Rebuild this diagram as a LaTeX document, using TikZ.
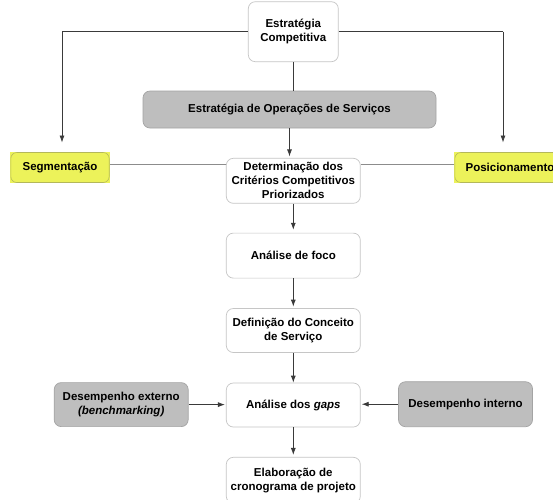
\documentclass[tikz,border=0pt]{standalone}
\usepackage{fontspec}
\setmainfont{Liberation Sans}
\usetikzlibrary{arrows.meta}
\definecolor{boxline}{HTML}{C6C6C6}
\definecolor{greyfill}{HTML}{BEBEBE}
\definecolor{greyline}{HTML}{A4A4A4}
\definecolor{yellowfill}{HTML}{ECF25A}
\definecolor{yellowline}{HTML}{B4B85A}
\definecolor{wire}{HTML}{3A3A3A}
\definecolor{sidewire}{HTML}{8C8C8C}

\begin{document}
\begin{tikzpicture}[x=1pt,y=-1pt,
  every node/.style={font=\fontsize{11.5}{14}\selectfont\bfseries, align=center, inner sep=0pt},
  card/.style={draw=boxline, fill=white, rounded corners=7pt, line width=0.7pt},
  greycard/.style={draw=greyline, fill=greyfill, rounded corners=7pt, line width=0.7pt},
  yellowcard/.style={fill=yellowfill},
  wireline/.style={draw=wire, line width=0.8pt},
  arrowline/.style={wireline, -{Latex[length=7pt,width=5pt]}},
  sideline/.style={draw=sidewire, line width=0.9pt}]

  \useasboundingbox (0,0) rectangle (553,499);
  \fill[white] (0,0) rectangle (553,499);

  % main column
  \node[card, minimum width=90pt, minimum height=60pt] (top) at (293.3,31.7)
    {Estratégia\\Competitiva};
  \node[greycard, minimum width=293pt, minimum height=37pt] (ops) at (289.5,109.5)
    {Estratégia de Operações de Serviços};
  \node[card, minimum width=134pt, minimum height=45pt] (det) at (293.3,180.8)
    {Determinação dos\\Critérios Competitivos\\Priorizados};
  \node[card, minimum width=134pt, minimum height=45pt] (foco) at (293.3,255.6)
    {Análise de foco};
  \node[card, minimum width=134pt, minimum height=44pt] (def) at (293.3,330.5)
    {Definição do Conceito\\de Serviço};
  \node[card, minimum width=134pt, minimum height=44pt] (gaps) at (293.3,405)
    {Análise dos \textit{gaps}};
  \node[card, minimum width=134pt, minimum height=46pt] (crono) at (293.3,480.3)
    {Elaboração de\\cronograma de projeto};

  % side boxes
  \node[yellowcard, minimum width=100pt, minimum height=31.6pt] (seg) at (60,167.5)
    {Segmentação};
  \draw[yellowline, line width=0.6pt, rounded corners=6pt]
    ([shift={(1pt,-1pt)}]seg.north west) rectangle ([shift={(-1pt,1pt)}]seg.south east);
  \node[yellowcard, minimum width=112pt, minimum height=31.6pt] (pos) at (510,167.5)
    {Posicionamento};
  \draw[yellowline, line width=0.6pt, rounded corners=6pt]
    ([shift={(1pt,-1pt)}]pos.north west) rectangle ([shift={(-1pt,1pt)}]pos.south east);

  \node[greycard, minimum width=134pt, minimum height=44pt] (ext) at (121.2,404.6)
    {Desempenho externo\\\textit{(benchmarking)}};
  \node[greycard, minimum width=134pt, minimum height=45pt] (int) at (465.5,404.2)
    {Desempenho interno};

  % branch points above the side boxes
  \coordinate (segtip) at (62,142.5);
  \coordinate (postip) at (503,142.5);

  % connectors
  \draw[wireline] (top.west) -| (segtip |- top.west) coordinate (lcorner);
  \draw[arrowline] (lcorner) -- (segtip);
  \draw[wireline] (top.east) -| (postip |- top.east) coordinate (rcorner);
  \draw[arrowline] (rcorner) -- (postip);

  \draw[wireline] (top.south) -- (top.south |- ops.north);
  \draw[arrowline] (ops.south) -- ([yshift=1.5pt]ops.south |- det.north);

  \draw[sideline] ([yshift=3pt]seg.east) -- ([yshift=3pt]seg.east -| det.west);
  \draw[sideline] ([yshift=3pt]pos.west) -- ([yshift=3pt]pos.west -| det.east);

  \draw[arrowline] (det.south) -- ([yshift=3pt]foco.north);
  \draw[arrowline] (foco.south) -- ([yshift=1.5pt]def.north);
  \draw[arrowline] (def.south) -- (gaps.north);
  \draw[arrowline] (gaps.south) -- ([yshift=2pt]crono.north);

  \draw[arrowline] (ext.east) -- ([xshift=-1pt]ext.east -| gaps.west);
  \draw[arrowline] (int.west) -- ([xshift=1pt]int.west -| gaps.east);
\end{tikzpicture}
\end{document}
